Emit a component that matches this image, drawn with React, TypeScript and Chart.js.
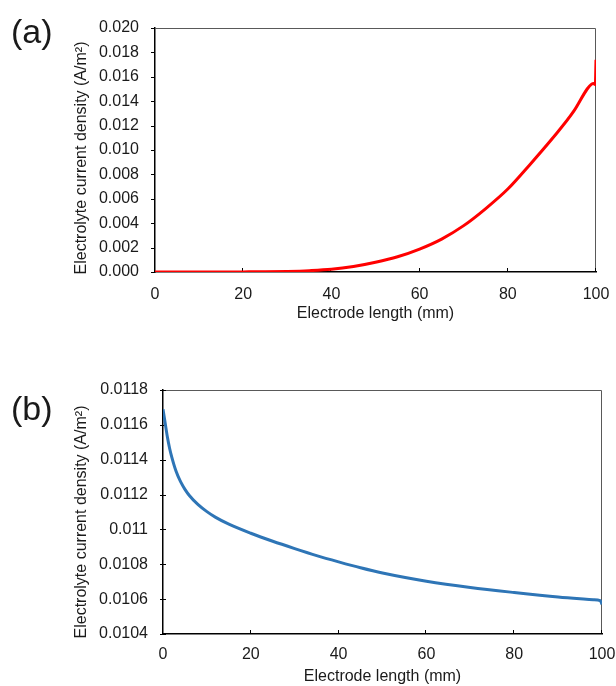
import React, { useEffect, useRef } from "react";
import { Chart, registerables } from "chart.js";

Chart.register(...registerables);

// ---- Data (a) ----
const xA = [0, 10, 20, 25, 30, 35, 40, 45, 50, 55, 60, 65, 70, 75, 80, 85, 90, 95, 98, 99, 99.5, 99.85, 100];
const yA = [0, 0, 0.00001, 0.00002, 0.00005, 0.00011, 0.00022, 0.00045, 0.0008, 0.00125, 0.00188, 0.0027, 0.0038, 0.0052, 0.0068, 0.0088, 0.0109, 0.0132, 0.015, 0.0154, 0.01545, 0.01535, 0.0174];

// ---- Data (b) ----
const xB = [0, 0.5, 1, 1.5, 2, 3, 4, 5, 6, 8, 10, 12, 15, 20, 25, 30, 35, 40, 45, 50, 60, 70, 80, 90, 95, 98, 99.6, 100];
const yB = [0.01169, 0.01161, 0.01153, 0.011466, 0.011415, 0.011332, 0.011274, 0.01123, 0.011195, 0.011142, 0.011102, 0.011069, 0.01103, 0.010978, 0.010932, 0.01089, 0.01085, 0.010814, 0.01078, 0.01075, 0.010703, 0.010667, 0.010638, 0.010612, 0.010602, 0.010597, 0.010592, 0.01057];

// ---- Ticks ----
const xTicks = [0, 20, 40, 60, 80, 100];
const yTicksA = [0, 0.002, 0.004, 0.006, 0.008, 0.01, 0.012, 0.014, 0.016, 0.018, 0.02];
const yTicksB = [0.0104, 0.0106, 0.0108, 0.011, 0.0112, 0.0114, 0.0116, 0.0118];

const yTitle = "Electrolyte current density (A/m\u00B2)";
const xTitle = "Electrode length (mm)";
const panelA = "(a)";
const panelB = "(b)";

const FONT_FAMILY = '"Liberation Sans", Arial, sans-serif';
const TEXT_COLOR = "#1a1a1a";

type Geo = {
  W: number;
  H: number;
  left: number;
  right: number;
  top: number;
  bottom: number;
  yOut: number;
  yIn: number;
  xOut: number;
  xIn: number;
  yTitleX: number;
  yTitleY: number;
  xTitlePad: number;
  xTickPad: number;
  yTickPad: number;
};

function decorPlugin(id: string, g: Geo) {
  return {
    id,
    beforeDatasetsDraw(chart: any) {
      const { ctx, chartArea: a, scales } = chart;
      ctx.save();
      // frame (top & right)
      ctx.strokeStyle = "#595959";
      ctx.lineWidth = 1;
      ctx.beginPath();
      ctx.moveTo(a.left, a.top + 0.5);
      ctx.lineTo(a.right - 0.5, a.top + 0.5);
      ctx.lineTo(a.right - 0.5, a.bottom);
      ctx.stroke();
      // ticks
      ctx.strokeStyle = "#000";
      ctx.lineWidth = 1;
      ctx.beginPath();
      const ys = scales.y;
      ys.ticks.forEach((t: any) => {
        const p = Math.round(ys.getPixelForValue(t.value)) + 0.5;
        ctx.moveTo(a.left - g.yOut, p);
        ctx.lineTo(a.left + g.yIn, p);
      });
      const xs = scales.x;
      xs.ticks.forEach((t: any) => {
        const p = Math.round(xs.getPixelForValue(t.value)) - 0.5;
        ctx.moveTo(p, a.bottom + g.xOut);
        ctx.lineTo(p, a.bottom - g.xIn);
      });
      ctx.stroke();
      // y title
      ctx.translate(g.yTitleX, g.yTitleY);
      ctx.rotate(-Math.PI / 2);
      ctx.font = `16px ${FONT_FAMILY}`;
      ctx.fillStyle = TEXT_COLOR;
      ctx.textAlign = "center";
      ctx.textBaseline = "middle";
      ctx.fillText(yTitle, 0, 0);
      ctx.restore();
    },
  };
}

function buildChart(
  canvas: HTMLCanvasElement,
  xs: number[],
  ys: number[],
  yTicks: number[],
  color: string,
  fmt: (v: number) => string,
  g: Geo,
  id: string
) {
  const font = { family: FONT_FAMILY, size: 16 };
  return new Chart(canvas, {
    type: "line",
    data: {
      datasets: [
        {
          data: xs.map((x, i) => ({ x, y: ys[i] })),
          borderColor: color,
          backgroundColor: color,
          borderWidth: 3,
          pointRadius: 0,
          fill: false,
          cubicInterpolationMode: "monotone",
        },
      ],
    },
    options: {
      animation: false,
      responsive: false,
      devicePixelRatio: 1,
      layout: { padding: { top: g.top, right: g.W - g.right, left: 0, bottom: 0 } },
      plugins: { legend: { display: false }, tooltip: { enabled: false } },
      scales: {
        x: {
          type: "linear",
          min: 0,
          max: 100,
          grid: { display: false, drawTicks: false },
          border: { display: true, color: "#000", width: 1.5 },
          ticks: { font, color: TEXT_COLOR, padding: g.xTickPad, maxRotation: 0, autoSkip: false },
          afterBuildTicks: (s: any) => {
            s.ticks = xTicks.map((v) => ({ value: v }));
          },
          afterFit: (s: any) => {
            s.height = g.H - g.bottom;
            s.paddingLeft = 0;
            s.paddingRight = 0;
          },
          title: {
            display: true,
            text: xTitle,
            font,
            color: TEXT_COLOR,
            padding: { top: 0, bottom: g.xTitlePad },
          },
        },
        y: {
          type: "linear",
          min: yTicks[0],
          max: yTicks[yTicks.length - 1],
          grid: { display: false, drawTicks: false },
          border: { display: true, color: "#000", width: 1.5 },
          ticks: {
            font,
            color: TEXT_COLOR,
            padding: g.yTickPad,
            autoSkip: false,
            callback: (v: any) => fmt(Number(v)),
          },
          afterBuildTicks: (s: any) => {
            s.ticks = yTicks.map((v) => ({ value: v }));
          },
          afterFit: (s: any) => {
            s.width = g.left;
            s.paddingTop = 0;
            s.paddingBottom = 0;
          },
        },
      },
    } as any,
    plugins: [decorPlugin(id, g)],
  });
}

const geoA: Geo = {
  W: 616,
  H: 340,
  left: 155,
  right: 596,
  top: 28,
  bottom: 272,
  yOut: 4,
  yIn: 0,
  xOut: 0,
  xIn: 4,
  yTitleX: 82,
  yTitleY: 158,
  xTitlePad: 17,
  xTickPad: 13,
  yTickPad: 16,
};

const geoB: Geo = {
  W: 616,
  H: 346,
  left: 163,
  right: 602,
  top: 50,
  bottom: 294,
  yOut: 3,
  yIn: 3,
  xOut: 0,
  xIn: 4,
  yTitleX: 82,
  yTitleY: 182,
  xTitlePad: 0,
  xTickPad: 11,
  yTickPad: 15,
};

export default function App() {
  const refA = useRef<HTMLCanvasElement | null>(null);
  const refB = useRef<HTMLCanvasElement | null>(null);

  useEffect(() => {
    const cA = buildChart(refA.current!, xA, yA, yTicksA, "#ff0000", (v) => v.toFixed(3), geoA, "decorA");
    const cB = buildChart(
      refB.current!,
      xB,
      yB,
      yTicksB,
      "#2e75b6",
      (v) => String(parseFloat(v.toFixed(4))),
      geoB,
      "decorB"
    );
    return () => {
      cA.destroy();
      cB.destroy();
    };
  }, []);

  const panelStyle: React.CSSProperties = {
    position: "absolute",
    left: 11,
    fontFamily: FONT_FAMILY,
    fontSize: 34,
    lineHeight: "40px",
    color: TEXT_COLOR,
  };

  return (
    <div
      style={{
        position: "absolute",
        left: 0,
        top: 0,
        width: 616,
        height: 686,
        background: "#fff",
        overflow: "hidden",
      }}
    >
      <canvas
        ref={refA}
        width={geoA.W}
        height={geoA.H}
        style={{ position: "absolute", left: 0, top: 0, width: geoA.W, height: geoA.H }}
      />
      <canvas
        ref={refB}
        width={geoB.W}
        height={geoB.H}
        style={{ position: "absolute", left: 0, top: 340, width: geoB.W, height: geoB.H }}
      />
      <div style={{ ...panelStyle, top: 11 }}>{panelA}</div>
      <div style={{ ...panelStyle, top: 388 }}>{panelB}</div>
    </div>
  );
}
